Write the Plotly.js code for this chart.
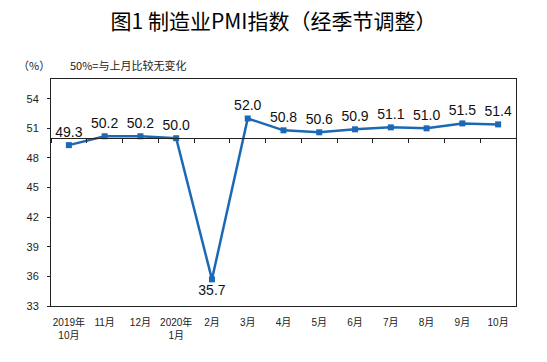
<!DOCTYPE html>
<html><head><meta charset="utf-8">
<script src="https://cdn.plot.ly/plotly-3.0.1.min.js"></script>
<style>html,body{margin:0;padding:0;background:#fff}#chart{width:547px;height:362px}</style>
</head><body><div id="chart"></div>
<script>
const categories = ["2019年<br>10月","11月","12月","2020年<br>1月","2月","3月","4月","5月","6月","7月","8月","9月","10月"];
const pmiValues = [49.3,50.2,50.2,50.0,35.7,52.0,50.8,50.6,50.9,51.1,51.0,51.5,51.4];
const labelPositions = ["top center","top center","top center","top center","bottom center","top center","top center","top center","top center","top center","top center","top center","top center"];
const yTicks = [33,36,39,42,45,48,51,54];
const yRange = [33,56];
const baseline = 50;

const font = 'Liberation Sans, "Noto Sans CJK SC", sans-serif';
const cjk = '"Noto Sans CJK SC", sans-serif';
const blue = '#1B69B6';

const trace = {
  x: categories, y: pmiValues, type: 'scatter', mode: 'lines+markers+text',
  line: {color: blue, width: 2.5},
  marker: {symbol: 'square', size: 6, color: blue},
  text: pmiValues.map(v => v.toFixed(1)),
  textposition: labelPositions,
  textfont: {family: font, size: 14, color: '#111'},
  cliponaxis: false, hoverinfo: 'skip'
};
const dummy = {x: categories, y: pmiValues, xaxis: 'x2', type: 'scatter', mode: 'none', hoverinfo: 'skip', showlegend: false};

const layout = {
  width: 547, height: 362,
  margin: {l: 51, r: 31, t: 79, b: 56},
  paper_bgcolor: '#fff', plot_bgcolor: '#fff',
  showlegend: false,
  title: {text: '图1 制造业PMI指数（经季节调整）', font: {family: cjk, size: 21, color: '#000'}, x: 0.5, xanchor: 'center', y: 0.94, yanchor: 'middle'},
  xaxis: {
    type: 'category', range: [-0.5, categories.length - 0.5],
    showline: true, linecolor: '#222', linewidth: 1, mirror: true,
    ticks: '', showgrid: false, zeroline: false, ticklabelstandoff: 7,
    tickfont: {family: font, size: 10, color: '#222'}
  },
  xaxis2: {
    type: 'category', overlaying: 'x', anchor: 'free',
    position: (baseline - yRange[0]) / (yRange[1] - yRange[0]),
    range: [-0.5, categories.length - 0.5],
    showline: true, linecolor: '#222', linewidth: 1,
    ticks: 'outside', ticklen: 4, tickcolor: '#222', tickson: 'boundaries',
    showticklabels: false, showgrid: false, zeroline: false
  },
  yaxis: {
    range: yRange, tickvals: yTicks, ticktext: yTicks.map(String),
    showline: true, linecolor: '#222', linewidth: 1, mirror: true,
    ticks: 'outside', ticklen: 3, tickcolor: '#222', ticklabelstandoff: 6,
    showgrid: false, zeroline: false,
    tickfont: {family: font, size: 11, color: '#222'}
  },
  annotations: [
    {text: '（%）', xref: 'paper', yref: 'paper', x: -0.075, y: 1.06, xanchor: 'left', yanchor: 'middle', showarrow: false, font: {family: cjk, size: 11, color: '#222'}},
    {text: '50%=与上月比较无变化', xref: 'paper', yref: 'paper', x: 0.036, y: 1.06, xanchor: 'left', yanchor: 'middle', showarrow: false, font: {family: cjk, size: 11, color: '#222'}}
  ]
};
Plotly.newPlot('chart', [trace, dummy], layout, {displayModeBar: false, staticPlot: true});
</script></body></html>
